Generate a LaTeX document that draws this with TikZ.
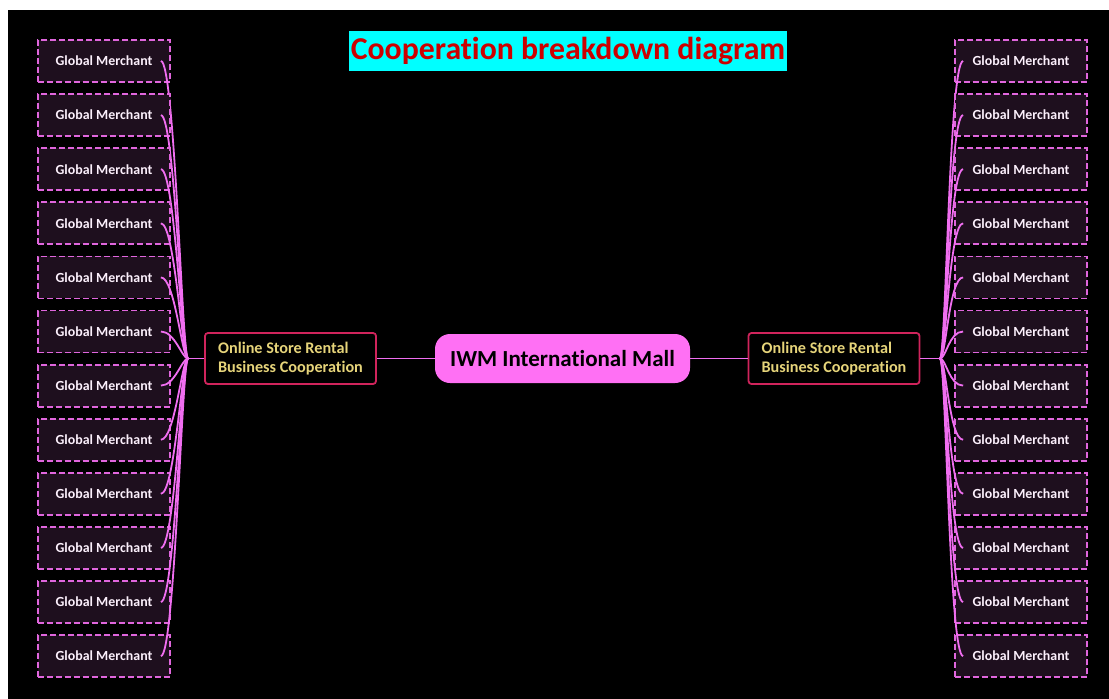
\documentclass[tikz,border=0pt]{standalone}
\usepackage{fontspec}
\setmainfont{Carlito}[Ligatures={NoCommon,NoRare}]
\usetikzlibrary{positioning}
\definecolor{leaffill}{HTML}{1E0F1E}
\definecolor{leafline}{HTML}{E066DD}
\definecolor{twigcol}{HTML}{F06EF0}
\definecolor{hubline}{HTML}{D0245C}
\definecolor{hubtext}{HTML}{E6D47A}
\definecolor{mallfill}{HTML}{FF70F4}
\definecolor{titlefill}{HTML}{00FFFF}
\definecolor{titletext}{HTML}{CC0000}
\tikzset{
  leafbox/.style={draw=leafline, fill=leaffill, dash pattern=on 6pt off 3pt, line width=1.8pt,
    minimum width=132pt, minimum height=42pt, inner sep=0pt, text=white!90!leafline,
    font=\fontsize{13.9}{16}\selectfont\bfseries},
  hubbox/.style={draw=hubline, fill=black, line width=1.8pt, rounded corners=3pt,
    minimum width=171pt, minimum height=51pt, inner xsep=12pt, align=left, text=hubtext,
    font=\fontsize{16.2}{18.5}\selectfont\bfseries},
  mallbox/.style={fill=mallfill, rounded corners=15pt, minimum width=255pt, minimum height=49pt,
    text=black, font=\fontsize{23}{26}\selectfont\bfseries},
  twig/.style={draw=twigcol, line width=1.8pt},
}
\begin{document}
\begin{tikzpicture}[x=1pt, y=-1pt]
  \useasboundingbox (0,0) rectangle (1109,699);
  \fill[white] (0,0) rectangle (1109,699);
  \fill[black] (8,10) rectangle (1109,699);

  % title
  \node[fill=titlefill, text=titletext, minimum width=438pt, minimum height=40pt, inner sep=0pt,
    font=\fontsize{31.8}{34}\selectfont\bfseries] (title) at (568,51) {Cooperation breakdown diagram};

  % centre and the two branches
  \node[mallbox] (mall) at (562.5,358.5) {IWM International Mall};
  \node[hubbox] (lhub) at (290.5,358.5) {Online Store Rental\\Business Cooperation};
  \node[hubbox] (rhub) at (834,358.5) {Online Store Rental\\Business Cooperation};
  \coordinate (lfan) at (188,358.5);
  \coordinate (rfan) at (940,358.5);

  \draw[twig] (lhub) -- (mall);
  \draw[twig] (mall) -- (rhub);
  \draw[twig] (lhub.west) -- (lfan);
  \draw[twig] (rhub.east) -- (rfan);

  % merchants
  \foreach \i in {1,...,12}{
    \pgfmathsetmacro{\yy}{61+54.1*(\i-1)}
    \node[leafbox] (l\i) at (104,\yy) {Global Merchant};
    \node[leafbox] (r\i) at (1021,\yy) {Global Merchant};
    \draw[twig] ([xshift=-10pt]l\i.east) .. controls +(14,0) and (182,358.5) .. (lfan);
    \draw[twig] ([xshift=9pt]r\i.west) .. controls +(-14,0) and (946,358.5) .. (rfan);
  }
\end{tikzpicture}
\end{document}
